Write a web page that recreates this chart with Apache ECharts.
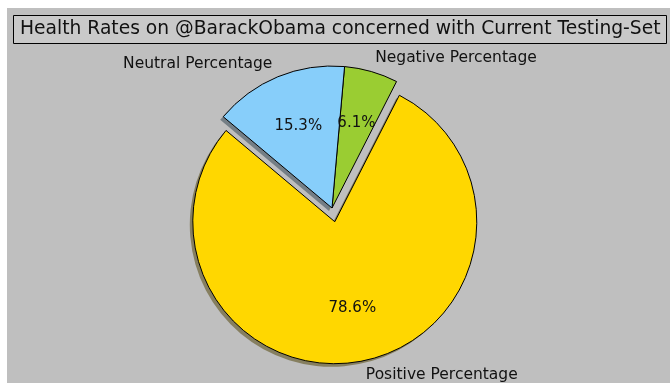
<!DOCTYPE html>
<html><head><meta charset="utf-8">
<script src="https://cdn.jsdelivr.net/npm/echarts@6/dist/echarts.min.js"></script>
<style>
html,body{margin:0;padding:0;background:#fff;width:670px;height:383px;overflow:hidden}
#c{position:absolute;left:7px;top:8px;width:663px;height:375px;background:#bfbfbf}
</style></head><body><div id="c"></div>
<script>
const titleText = "Health Rates on @BarackObama concerned with Current Testing-Set";
const categories = ["Positive Percentage", "Negative Percentage", "Neutral Percentage"];
const values = [78.6, 6.1, 15.3];
const colors = ["#FFD700", "#9ACD32", "#87CEFA"];
const shadowColors = ["rgba(77,64,0,0.5)", "rgba(46,62,15,0.5)", "rgba(41,62,75,0.5)"];
const explodedIndex = 0;

const R = 142;
const center = [325, 200];
const shadowCenter = [center[0] - 3, center[1] + 3];
const font = "DejaVu Sans";
const T = 'rgba(0,0,0,0)';

const chart = echarts.init(document.getElementById('c'), null, {renderer: 'canvas'});

const makeData = (styleFn) => categories.map((name, i) => ({
  name, value: values[i], selected: i === explodedIndex,
  itemStyle: styleFn(i), select: {itemStyle: styleFn(i)}
}));

const common = {
  type: 'pie', startAngle: 140, clockwise: false,
  selectedMode: 'single', selectedOffset: 14, avoidLabelOverlap: false, silent: true,
  emphasis: {disabled: true}
};

chart.setOption({
  animation: false,
  title: {
    text: titleText, left: 6, top: 7,
    borderColor: '#000', borderWidth: 1, backgroundColor: '#c9c9c9',
    padding: [5, 6, 5, 7],
    textStyle: {fontFamily: font, fontSize: 18.7, fontWeight: 'normal', color: '#111'}
  },
  series: [
    Object.assign({}, common, {
      center: shadowCenter, radius: [0, R],
      label: {show: false}, labelLine: {show: false},
      data: makeData(i => ({color: shadowColors[i], borderWidth: 0})), z: 1
    }),
    Object.assign({}, common, {
      center: center, radius: [0, R],
      label: {show: true, position: 'outside', fontFamily: font, fontSize: 15.5, color: '#111',
              distanceToLabelLine: 0, formatter: '{b}'},
      labelLine: {show: false, length: 14, length2: 0},
      data: makeData(i => ({color: colors[i], borderColor: '#000', borderWidth: 1})), z: 2
    }),
    Object.assign({}, common, {
      center: center, radius: [0, 2 * 0.6 * R],
      label: {show: true, position: 'inside', fontFamily: font, fontSize: 15, color: '#111',
              formatter: p => p.value.toFixed(1) + '%'},
      labelLine: {show: false},
      data: makeData(i => ({color: T, borderWidth: 0})), z: 3
    })
  ]
});
</script></body></html>
